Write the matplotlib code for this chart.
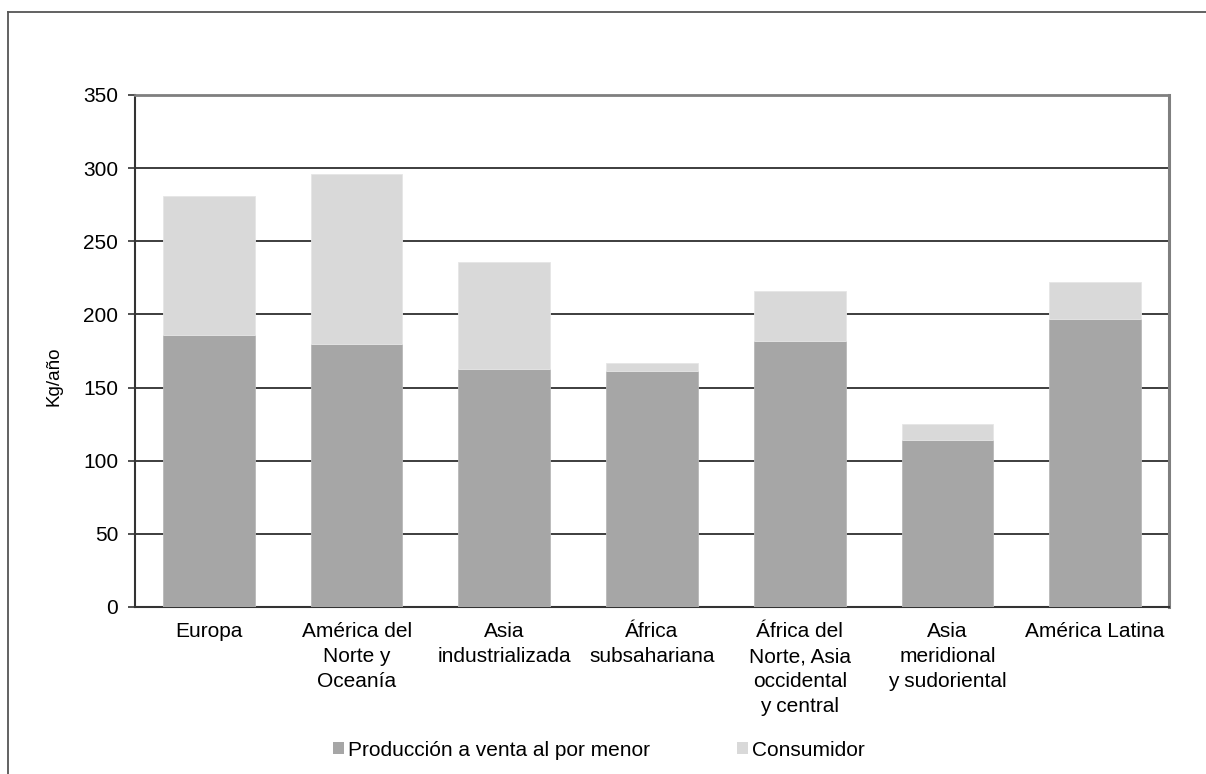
import matplotlib.pyplot as plt
import numpy as np
from matplotlib.lines import Line2D
from matplotlib.patches import Patch

# Pérdidas y desperdicio de alimentos per cápita por región (kg/año)
regions = [
    "Europa",
    "América del\nNorte y\nOceanía",
    "Asia\nindustrializada",
    "África\nsubsahariana",
    "África del\nNorte, Asia\noccidental\ny central",
    "Asia\nmeridional\ny sudoriental",
    "América Latina",
]
production_retail = [186, 180, 163, 161, 182, 114, 197]
consumer = [95, 116, 73, 6, 34, 11, 25]

series_names = ["Producción a venta al por menor", "Consumidor"]
series_colors = ["#a6a6a6", "#d9d9d9"]
y_ticks = [0, 50, 100, 150, 200, 250, 300, 350]

plt.rcParams["font.family"] = ["Liberation Sans", "DejaVu Sans"]

W, H = 1206, 774
fig = plt.figure(figsize=(W / 100, H / 100), dpi=100)
ax = fig.add_axes([135 / W, 1 - 607 / H, (1169 - 135) / W, (607 - 95) / H])

x = np.arange(len(regions))
ax.bar(x, production_retail, width=0.62, color=series_colors[0],
       edgecolor="#b8b8b8", linewidth=0.6, zorder=3)
ax.bar(x, consumer, width=0.62, bottom=production_retail, color=series_colors[1],
       edgecolor="#e6e6e6", linewidth=0.6, zorder=3)

ax.set_xlim(-0.5, len(regions) - 0.5)
ax.set_ylim(0, 350)
ax.set_yticks(y_ticks)
ax.set_xticks(x)
ax.set_xticklabels(regions, fontsize=15, linespacing=1.39, va="top")
ax.tick_params(axis="x", length=0, pad=11)
ax.tick_params(axis="y", direction="out", length=5, width=1.2,
               color="#333333", labelsize=15, pad=7)

# líneas de cuadrícula horizontales
for v in y_ticks[1:-1]:
    ax.axhline(v, color="#2e2e2e", linewidth=1.3, zorder=1)

ax.spines["left"].set_color("#333333")
ax.spines["left"].set_linewidth(1.5)
ax.spines["bottom"].set_color("#333333")
ax.spines["bottom"].set_linewidth(1.5)
ax.spines["top"].set_color("#7f7f7f")
ax.spines["top"].set_linewidth(2)
ax.spines["right"].set_color("#7f7f7f")
ax.spines["right"].set_linewidth(2.2)

ax.set_ylabel("Kg/año", fontsize=13.5)
ax.yaxis.set_label_coords(-0.07, 0.45)

handles = [Patch(facecolor=c, edgecolor="none") for c in series_colors]
fig.legend(handles, series_names, loc="center", bbox_to_anchor=(599 / W, 1 - 750 / H),
           ncol=2, frameon=False, fontsize=15, handlelength=0.5, handleheight=0.5,
           handletextpad=0.2, columnspacing=4.2)

# marco exterior del gráfico
fig.add_artist(Line2D([8 / W, 1.0], [1 - 12 / H, 1 - 12 / H],
                      transform=fig.transFigure, color="#555555", linewidth=1.3))
fig.add_artist(Line2D([8 / W, 8 / W], [1 - 12 / H, 0.0],
                      transform=fig.transFigure, color="#555555", linewidth=1.3))

fig.savefig("out.png", dpi=100)
